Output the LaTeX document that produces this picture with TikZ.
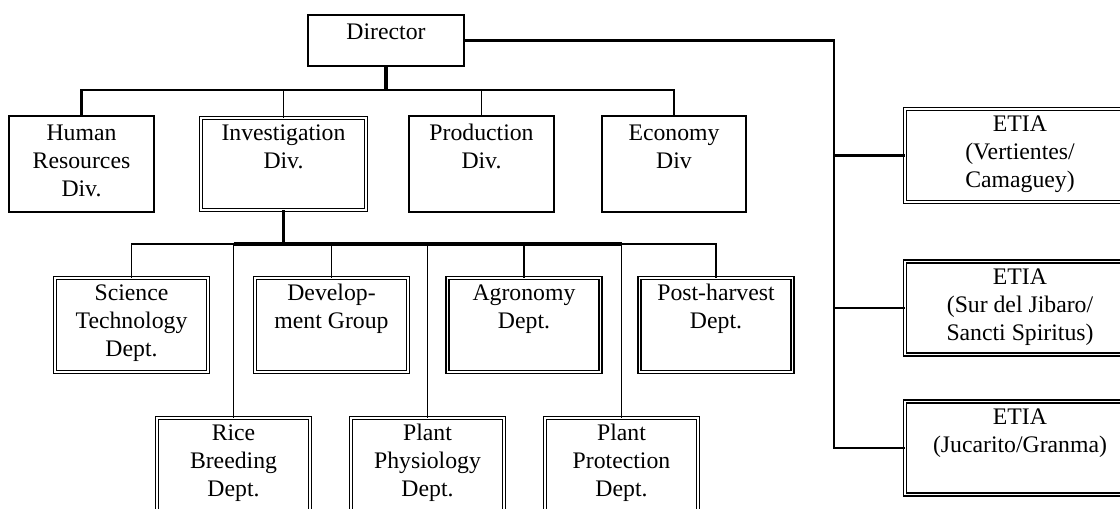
\documentclass[tikz,border=0pt]{standalone}
\usepackage{fontspec}
\setmainfont{Liberation Serif}
\newcommand\sbt[3]{\parbox[t][\dimexpr0.75pt*#2\relax][t]{\dimexpr0.75pt*#1\relax}{\centering\rule{0pt}{18.4pt}#3}}
\newcommand\dbt[3]{\parbox[t][\dimexpr0.75pt*#2\relax][t]{\dimexpr0.75pt*#1\relax}{\centering\rule{0pt}{17pt}#3}}
\begin{document}
\begin{tikzpicture}[x=0.75pt,y=-0.75pt,
  every node/.style={inner sep=0pt,outer sep=0pt,font=\fontsize{17.8}{21}\selectfont},
  sbox/.style={draw,line width=1.3pt},
  dbox/.style={draw,double,line width=1.05pt,double distance=1.4pt},
  thin/.style={line width=1.3pt},
  thick/.style={line width=2.6pt},
  mid/.style={line width=1.6pt}]
\useasboundingbox (0,0) rectangle (1120,508);
\clip (0,0) rectangle (1120,508);
\coordinate (barA) at (0,90);
\coordinate (barB) at (0,244);
\coordinate (trunk) at (834,0);
% boxes
\node[sbox] (dir) at (386,40.5) {\sbt{156}{51}{Director}};
\node[sbox] (hr) at (81.5,164) {\sbt{145}{96}{Human\\Resources\\Div.}};
\node[dbox] (inv) at (283.5,164) {\dbt{165}{92}{Investigation\\Div.}};
\node[sbox] (prod) at (481.5,164) {\sbt{145}{96}{Production\\Div.}};
\node[sbox] (eco) at (674,164) {\sbt{144}{96}{Economy\\Div}};
\node[dbox] (etiaA) at (1020,155.5) {\dbt{230}{93}{ETIA\\(Vertientes/\\Camaguey)}};
\node[dbox] (etiaB) at (1020,308) {\dbt{230}{93}{ETIA\\(Sur del Jibaro/\\Sancti Spiritus)}};
\node[dbox] (etiaC) at (1020,448) {\dbt{230}{93}{ETIA\\(Jucarito/Granma)}};
\node[dbox] (sci) at (131.5,325) {\dbt{153}{94}{Science\\Technology\\Dept.}};
\node[dbox] (dev) at (331.5,325) {\dbt{153}{94}{Develop-\\ment Group}};
\node[dbox] (agro) at (524,325) {\dbt{153}{94}{Agronomy\\Dept.}};
\node[dbox] (post) at (716,325) {\dbt{153}{94}{Post-harvest\\Dept.}};
\node[dbox] (rice) at (233.5,465) {\dbt{153}{94}{Rice\\Breeding\\Dept.}};
\node[dbox] (phys) at (427.5,465) {\dbt{153}{94}{Plant\\Physiology\\Dept.}};
\node[dbox] (prot) at (621.5,465) {\dbt{153}{94}{Plant\\Protection\\Dept.}};
% connectors from Director
\draw[thick] (dir.south) -- (dir.south |- barA);
\draw[mid] (hr.north) -- (hr.north |- barA) -- (eco.north |- barA) -- (eco.north);
\draw[thin] (inv.north) -- (inv.north |- barA);
\draw[thin] (prod.north) -- (prod.north |- barA);
\draw[mid] (dir.east) -- (dir.east -| trunk) -- (trunk |- etiaC.west) -- (etiaC.west);
\draw[mid] (trunk |- etiaA.west) -- (etiaA.west);
\draw[mid] (trunk |- etiaB.west) -- (etiaB.west);
% connectors from Investigation
\draw[thick] (inv.south) -- (inv.south |- barB);
\draw[thin] (sci.north) -- (sci.north |- barB) -- (rice.north |- barB);
\draw[thick] (rice.north |- barB) -- (prot.north |- barB);
\draw[thin] (prot.north |- barB) -- (post.north |- barB) -- (post.north);
\draw[thin] (rice.north |- barB) -- (rice.north);
\draw[thin] (dev.north |- barB) -- (dev.north);
\draw[thin] (phys.north |- barB) -- (phys.north);
\draw[thin] (agro.north |- barB) -- (agro.north);
\draw[thin] (prot.north |- barB) -- (prot.north);
\end{tikzpicture}
\end{document}
